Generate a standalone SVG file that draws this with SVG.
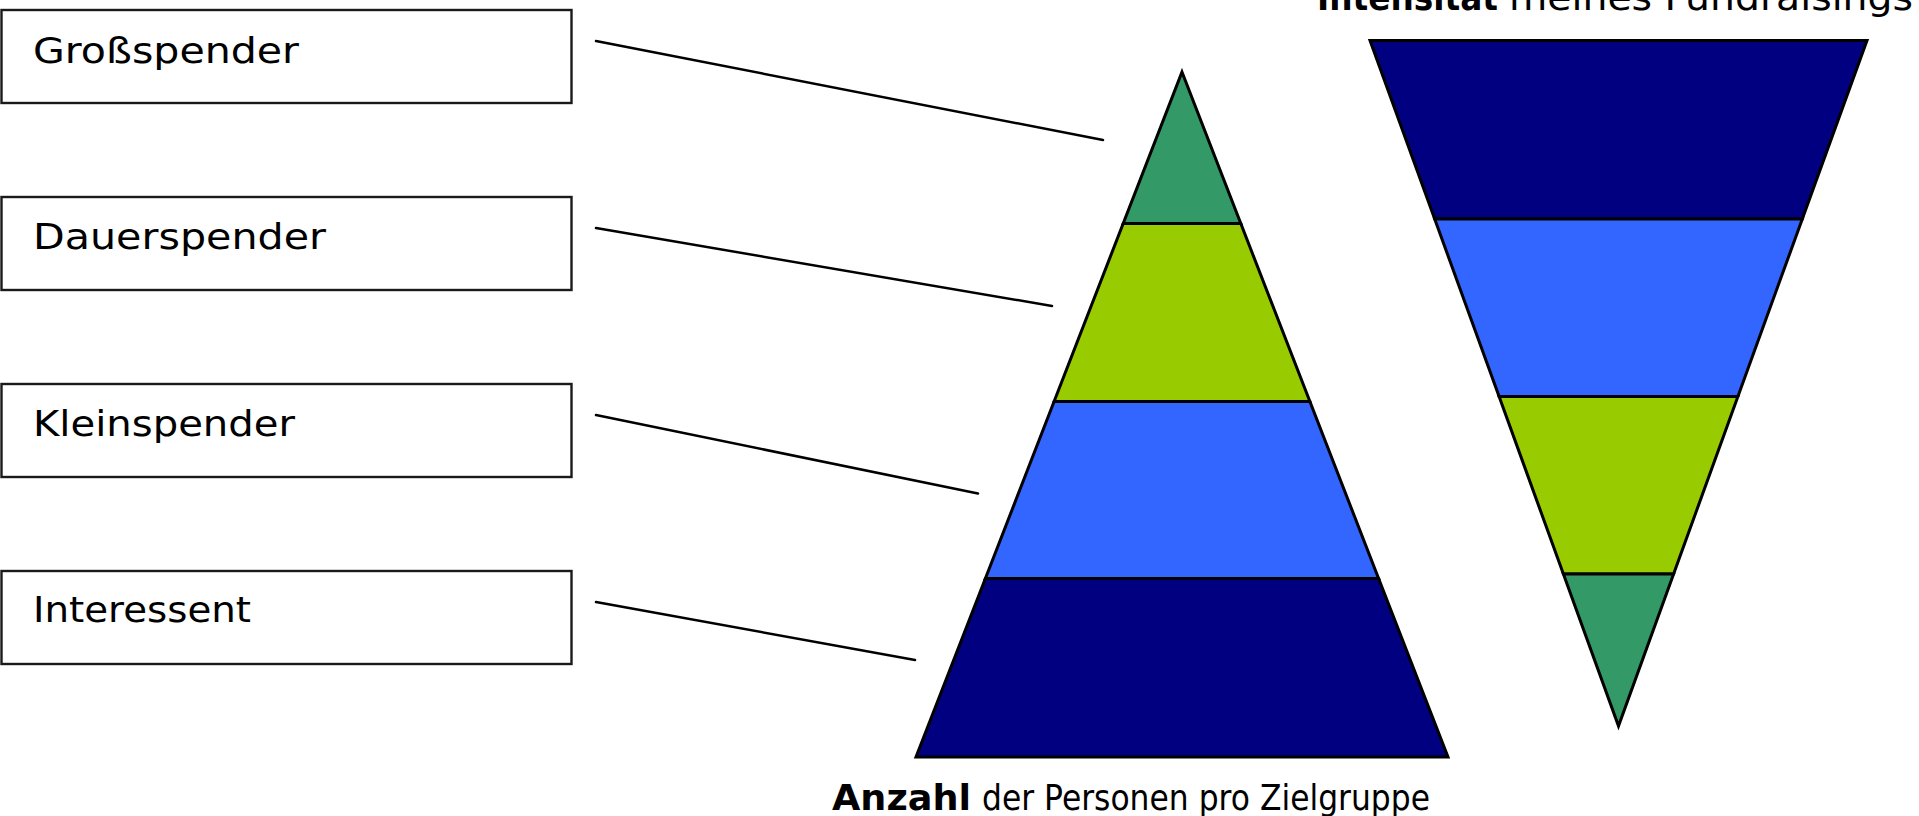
<svg xmlns="http://www.w3.org/2000/svg" width="1919" height="816" viewBox="0 0 1919 816">
<style>
.box{fill:#fff;stroke:#1a1a1a;stroke-width:2.4}
.lbl{font-family:"DejaVu Sans","Liberation Sans",sans-serif;font-size:36px;fill:#000}
.b{font-weight:bold}
.conn{stroke:#000;stroke-width:2.5;fill:none;stroke-linecap:round}
.seg{stroke:#000;stroke-width:3;stroke-linejoin:miter}
.g1{fill:#339966}.g2{fill:#99CC00}.g3{fill:#3366FF}.g4{fill:#000080}
</style>
<rect width="1919" height="816" fill="#fff"/>
<g id="title-top">
<text class="lbl b" x="1317" y="9.5" textLength="181" lengthAdjust="spacingAndGlyphs">Intensität</text>
<text class="lbl" x="1509" y="9.5" textLength="404" lengthAdjust="spacingAndGlyphs">meines Fundraisings</text>
</g>
<g id="node-grossspender">
<rect class="box" x="1.5" y="10" width="570" height="93"/>
<text class="lbl" x="33" y="62.5" textLength="266" lengthAdjust="spacingAndGlyphs">Großspender</text>
</g>
<g id="node-dauerspender">
<rect class="box" x="1.5" y="197" width="570" height="93"/>
<text class="lbl" x="33" y="249" textLength="293" lengthAdjust="spacingAndGlyphs">Dauerspender</text>
</g>
<g id="node-kleinspender">
<rect class="box" x="1.5" y="384" width="570" height="93"/>
<text class="lbl" x="33" y="436" textLength="262" lengthAdjust="spacingAndGlyphs">Kleinspender</text>
</g>
<g id="node-interessent">
<rect class="box" x="1.5" y="571" width="570" height="93"/>
<text class="lbl" x="33" y="622" textLength="218" lengthAdjust="spacingAndGlyphs">Interessent</text>
</g>
<g id="connectors">
<line class="conn" x1="596" y1="41" x2="1103" y2="140"/>
<line class="conn" x1="596" y1="228" x2="1052" y2="306"/>
<line class="conn" x1="596" y1="415" x2="978" y2="493.5"/>
<line class="conn" x1="596" y1="602" x2="915" y2="660"/>
</g>
<g id="pyramid-anzahl">
<polygon class="seg g1" points="1182,72 1240.8,223.5 1123.2,223.5"/>
<polygon class="seg g2" points="1123.2,223.5 1240.8,223.5 1309.9,401.5 1054.1,401.5"/>
<polygon class="seg g3" points="1054.1,401.5 1309.9,401.5 1378.6,578.5 985.4,578.5"/>
<polygon class="seg g4" points="985.4,578.5 1378.6,578.5 1448,757 916,757"/>
</g>
<g id="pyramid-intensitaet">
<polygon class="seg g4" points="1370,40.5 1867,40.5 1802.3,219 1434.7,219"/>
<polygon class="seg g3" points="1434.7,219 1802.3,219 1737.9,396.5 1499.1,396.5"/>
<polygon class="seg g2" points="1499.1,396.5 1737.9,396.5 1673.6,574 1563.4,574"/>
<polygon class="seg g1" points="1563.4,574 1673.6,574 1618.5,726"/>
</g>
<g id="title-bottom">
<text class="lbl b" x="832" y="810" textLength="139" lengthAdjust="spacingAndGlyphs">Anzahl</text>
<text class="lbl" x="982" y="810" textLength="448" lengthAdjust="spacingAndGlyphs">der Personen pro Zielgruppe</text>
</g>
</svg>
